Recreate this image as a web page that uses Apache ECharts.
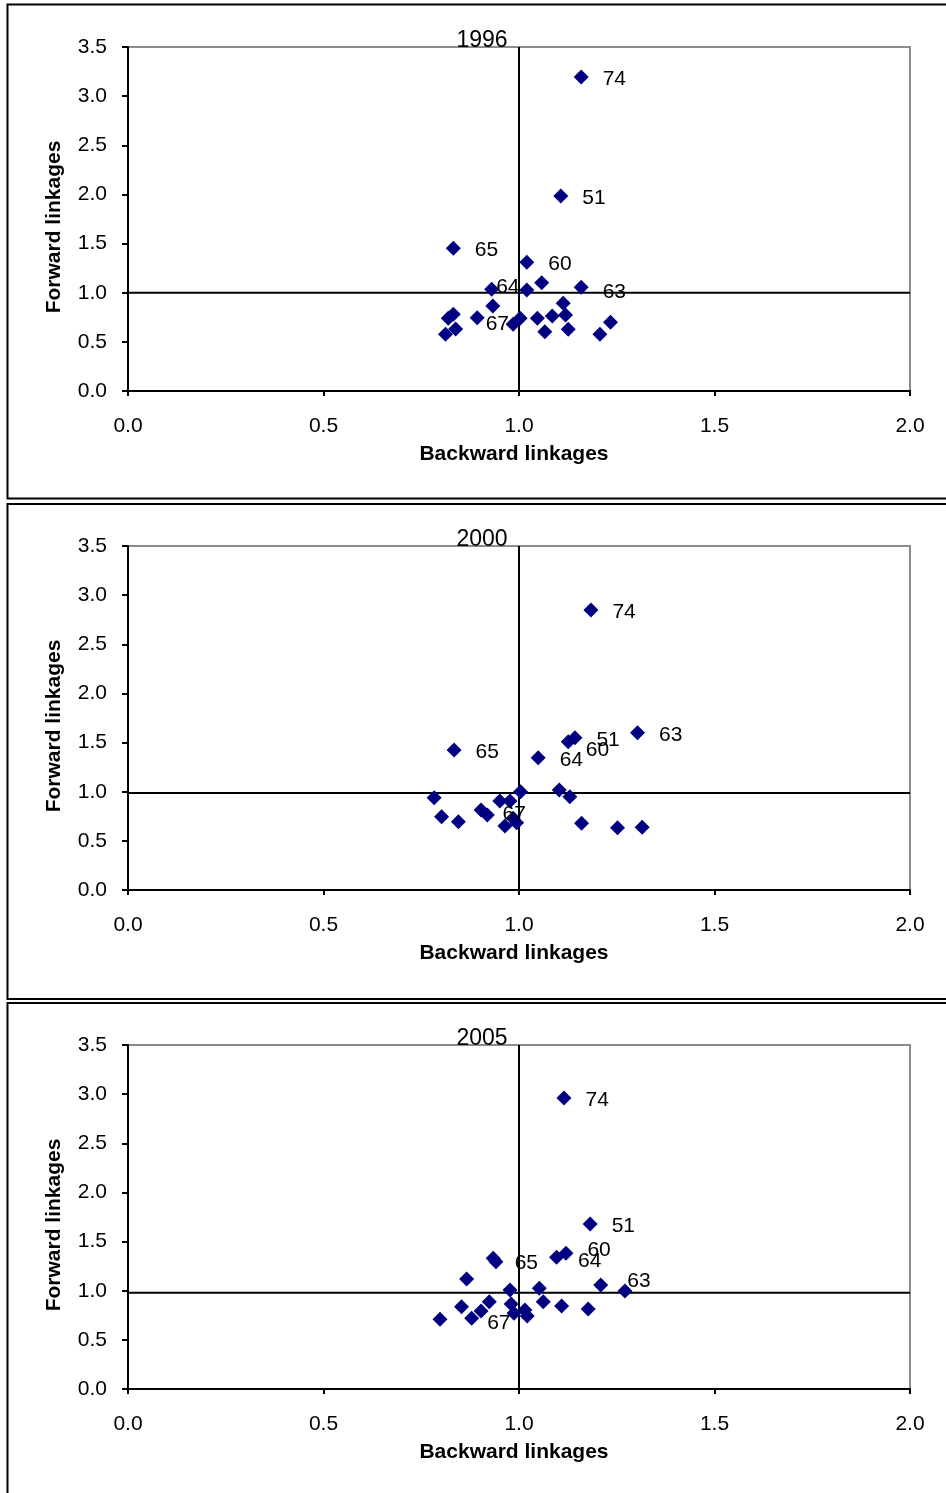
<!DOCTYPE html>
<html><head><meta charset="utf-8">
<script src="https://cdn.jsdelivr.net/npm/echarts@6/dist/echarts.min.js"></script>
<style>html,body{margin:0;padding:0;background:#fff}#c{width:946px;height:1493px}</style>
</head><body><div id="c"></div>
<script>
const years = ['1996', '2000', '2005'];
const xTicks = ['0.0', '0.5', '1.0', '1.5', '2.0'];
const yTicks = ['0.0', '0.5', '1.0', '1.5', '2.0', '2.5', '3.0', '3.5'];

const x1996 = [1.159, 1.107, 0.832, 1.020, 1.058, 0.930, 1.020, 1.159, 0.933, 1.113, 0.832, 0.819, 0.893, 0.838, 0.812, 1.003, 0.985, 1.047, 1.085, 1.119, 1.066, 1.126, 1.207, 1.234];
const y1996 = [3.195, 1.984, 1.452, 1.309, 1.102, 1.035, 1.028, 1.055, 0.865, 0.892, 0.780, 0.739, 0.746, 0.631, 0.577, 0.739, 0.678, 0.739, 0.763, 0.773, 0.603, 0.627, 0.577, 0.699];
const l1996 = ['74', '51', '65', '60', '', '64', '', '63', '', '', '', '', '67', '', '', '', '', '', '', '', '', '', '', ''];

const x2000 = [1.184, 1.303, 1.143, 1.126, 0.834, 1.049, 0.783, 1.004, 1.103, 1.130, 0.951, 0.977, 0.903, 0.919, 0.802, 0.845, 0.985, 0.964, 0.994, 1.160, 1.252, 1.315];
const y2000 = [2.849, 1.600, 1.549, 1.509, 1.424, 1.346, 0.939, 1.000, 1.017, 0.949, 0.905, 0.905, 0.814, 0.763, 0.746, 0.695, 0.729, 0.651, 0.685, 0.678, 0.634, 0.638];
const l2000 = ['74', '63', '51', '60', '65', '64', '', '', '', '', '', '', '67', '', '', '', '', '', '', '', '', ''];

const x2005 = [1.115, 1.182, 1.120, 1.096, 0.934, 0.941, 0.866, 0.977, 1.052, 1.209, 1.271, 0.853, 0.924, 0.903, 0.879, 0.798, 0.980, 0.987, 1.015, 1.021, 1.062, 1.109, 1.177];
const y2005 = [2.961, 1.679, 1.381, 1.340, 1.330, 1.295, 1.119, 1.007, 1.024, 1.058, 0.997, 0.837, 0.888, 0.794, 0.719, 0.709, 0.865, 0.770, 0.804, 0.743, 0.888, 0.844, 0.814];
const l2005 = ['74', '51', '60', '64', '65', '', '', '', '', '63', '', '', '', '', '67', '', '', '', '', '', '', '', ''];

const refX = [1.0, 1.0, 1.0];
const refY = [1.0, 0.987, 0.98];

const xs = [x1996, x2000, x2005];
const ys = [y1996, y2000, y2005];
const ls = [l1996, l2000, l2005];

// label nudges (layout only)
const nudges = [
  {'64': [-17, -4], '67': [-13, 5], '63': [0, 3]},
  {'60': [-4, 7], '67': [0, 2]},
  {'60': [0, -5], '64': [0, 2], '65': [0, 3], '63': [5, -6], '67': [-6, 3]}
];

const FONT = '"Liberation Sans", Arial, sans-serif';
const tops = [47, 546, 1045];
const H = 344;

const grids = [], xAxes = [], yAxes = [], series = [], graphics = [];

tops.forEach((t, i) => {
  grids.push({left: 128, top: t, width: 782, height: H, show: true, borderColor: '#8c8c8c', borderWidth: 2, backgroundColor: 'transparent'});
  xAxes.push({
    gridIndex: i, type: 'value', min: 0, max: 2, interval: 0.5,
    name: 'Backward linkages', nameLocation: 'middle', nameGap: 53,
    nameTextStyle: {fontFamily: FONT, fontSize: 21, fontWeight: 'bold', color: '#000', padding: [0, 10, 0, 0]},
    axisLine: {show: true, onZero: false, lineStyle: {color: '#000', width: 2}},
    axisTick: {show: true, length: 5, lineStyle: {color: '#000', width: 2}},
    axisLabel: {fontFamily: FONT, fontSize: 21, color: '#000', margin: 25, formatter: (v) => xTicks[Math.round(v / 0.5)]},
    splitLine: {show: false}
  });
  yAxes.push({
    gridIndex: i, type: 'value', min: 0, max: 3.5, interval: 0.5,
    name: 'Forward linkages', nameLocation: 'middle', nameGap: 63,
    nameTextStyle: {fontFamily: FONT, fontSize: 21, fontWeight: 'bold', color: '#000', padding: [0, 16, 0, 0]},
    axisLine: {show: true, onZero: false, lineStyle: {color: '#000', width: 2}},
    axisTick: {show: true, length: 6, lineStyle: {color: '#000', width: 2}},
    axisLabel: {fontFamily: FONT, fontSize: 21, color: '#000', margin: 21, formatter: (v) => yTicks[Math.round(v / 0.5)]},
    splitLine: {show: false}
  });
  // reference lines
  series.push({type: 'line', xAxisIndex: i, yAxisIndex: i, data: [[refX[i], 0], [refX[i], 3.5]], symbol: 'none', silent: true, z: 3,
    lineStyle: {color: '#000', width: 2}, animation: false});
  series.push({type: 'line', xAxisIndex: i, yAxisIndex: i, data: [[0, refY[i]], [2, refY[i]]], symbol: 'none', silent: true, z: 3,
    lineStyle: {color: '#000', width: 2}, animation: false});
  const data = xs[i].map((x, k) => {
    const lab = ls[i][k];
    const item = {value: [x, ys[i][k]]};
    if (lab) {
      const off = nudges[i][lab] || [0, 0];
      item.label = {show: true, formatter: lab, offset: [off[0], off[1] + 2]};
    }
    return item;
  });
  series.push({type: 'scatter', xAxisIndex: i, yAxisIndex: i, data, symbol: 'diamond', symbolSize: 15, z: 5,
    itemStyle: {color: '#000080', opacity: 1}, animation: false,
    label: {show: false, position: 'right', distance: 14, fontFamily: FONT, fontSize: 21, color: '#000'}});
  graphics.push({type: 'text', x: 482, y: t - 6, z: 10,
    style: {text: years[i], fontFamily: FONT, fontSize: 23, fill: '#000', textAlign: 'center', textVerticalAlign: 'middle'}});
});

graphics.push({type: 'rect', shape: {x: 7.5, y: 4.5, width: 960, height: 494}, style: {fill: 'none', stroke: '#000', lineWidth: 2}, z: 0});
graphics.push({type: 'rect', shape: {x: 7.5, y: 504, width: 960, height: 495}, style: {fill: 'none', stroke: '#000', lineWidth: 2}, z: 0});
graphics.push({type: 'rect', shape: {x: 7.5, y: 1003, width: 960, height: 600}, style: {fill: 'none', stroke: '#000', lineWidth: 2}, z: 0});

const chart = echarts.init(document.getElementById('c'), null, {renderer: 'canvas'});
chart.setOption({
  backgroundColor: '#fff',
  animation: false,
  grid: grids, xAxis: xAxes, yAxis: yAxes, series, graphic: graphics
});
</script></body></html>
